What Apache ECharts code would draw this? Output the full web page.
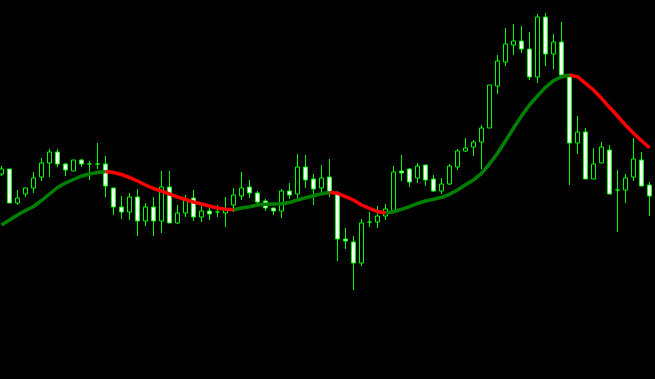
<!DOCTYPE html>
<html>
<head>
<meta charset="utf-8">
<script src="https://cdn.jsdelivr.net/npm/echarts@6/dist/echarts.min.js"></script>
<style>
html,body{margin:0;padding:0;background:#000;}
#chart{width:655px;height:379px;}
</style>
</head>
<body>
<div id="chart"></div>
<script>
// Bar index labels (no axis is drawn in the reference)
var categories = [];
for (var n = 1; n <= 82; n++) categories.push(String(n));

var openVals  = [226,231,197,206,212,223,237,248,236,229,240,236,236,236,212,193,188,203,179,193,
                 179,213,177,187,202,183,189,188,187,195,204,213,207,199,192,189,209,206,233,221,
                 212,223,207,161,158,137,178,178,184,189,229,231,222,235,221,209,216,233,249,253,
                 258,272,314,338,355,359,351,323,383,346,358,323,257,268,221,237,250,210,210,223,
                 240,215];
var closeVals = [231,197,202,212,222,237,248,236,230,240,236,236,236,214,193,188,203,179,193,179,
                 213,177,187,200,183,189,186,188,191,205,212,207,198,192,189,209,205,233,220,211,
                 222,208,161,159,137,177,178,184,191,228,227,218,234,220,209,216,234,249,252,258,
                 272,315,339,356,359,351,323,383,346,358,325,257,268,221,236,253,206,210,222,241,
                 214,204];
var lowVals   = [224,197,195,203,207,219,223,233,224,229,233,220,231,203,185,181,180,164,174,164,
                 167,177,176,183,179,178,180,183,173,188,200,202,195,189,185,182,201,202,212,195,
                 208,203,139,151,110,134,173,172,180,188,219,213,217,214,208,206,215,230,248,244,
                 231,272,306,334,345,347,320,317,334,331,323,215,246,221,221,237,206,168,197,219,
                 214,184];
var highVals  = [234,231,210,212,228,242,251,251,237,240,241,239,257,244,212,204,207,211,197,203,
                 229,229,195,205,210,194,194,195,203,212,228,220,209,201,192,211,217,246,245,226,
                 235,241,209,172,164,181,188,194,196,234,245,232,237,235,225,222,236,251,262,260,
                 275,315,345,372,376,374,368,386,387,366,378,326,284,272,252,258,255,230,226,262,
                 248,218];
var maVals    = [175,180,185,189.5,193.5,199.5,206,212.5,217,220.5,224,226,227.5,228.5,227.5,225.5,222.5,219,215,211.5,
                 209,206,203,200.5,198,196,194,192,190.7,190.2,192,193.3,195,195.7,196,196.3,197.5,200,202.3,204.3,
                 206.3,207.5,206.7,203.3,200,195,191.7,188.5,187,188.3,190.7,193.3,196.5,199,200.7,202.7,205.7,210,215.3,220,
                 226.7,236,246.7,259,271.7,284,295,304,312.7,319.3,323.3,325,323.3,316.7,310,301.7,292.7,284,275,266.7,
                 259.3,252.3];

var candles = categories.map(function (c, i) {
  return [openVals[i], closeVals[i], lowVals[i], highVals[i]];
});

// MA coloured by slope: green when rising, red when falling
var maUp = [], maDown = [];
for (var i = 0; i < maVals.length; i++) {
  var prevUp = i > 0 && maVals[i] >= maVals[i - 1];
  var nextUp = i < maVals.length - 1 && maVals[i + 1] >= maVals[i];
  var prevDn = i > 0 && maVals[i] < maVals[i - 1];
  var nextDn = i < maVals.length - 1 && maVals[i + 1] < maVals[i];
  maUp.push(prevUp || nextUp ? maVals[i] : '-');
  maDown.push(prevDn || nextDn ? maVals[i] : '-');
}

var chart = echarts.init(document.getElementById('chart'), null, {renderer: 'canvas'});
chart.setOption({
  backgroundColor: '#000000',
  animation: false,
  grid: {left: 1.5, right: 5.5, top: 0, bottom: 0},
  xAxis: {type: 'category', data: categories, boundaryGap: false, show: false},
  yAxis: {type: 'value', min: 21, max: 400, show: false},
  series: [
    {
      type: 'candlestick',
      data: candles,
      barWidth: 4,
      itemStyle: {
        color: '#000000',
        color0: '#ffffff',
        borderColor: '#00ff00',
        borderColor0: '#00ff00',
        borderWidth: 1
      },
      z: 2
    },
    {
      type: 'line', data: maUp, showSymbol: false, symbol: 'none',
      lineStyle: {color: '#008000', width: 3.5}, connectNulls: false, z: 3
    },
    {
      type: 'line', data: maDown, showSymbol: false, symbol: 'none',
      lineStyle: {color: '#ff0000', width: 3.5}, connectNulls: false, z: 4
    }
  ]
});
</script>
</body>
</html>
